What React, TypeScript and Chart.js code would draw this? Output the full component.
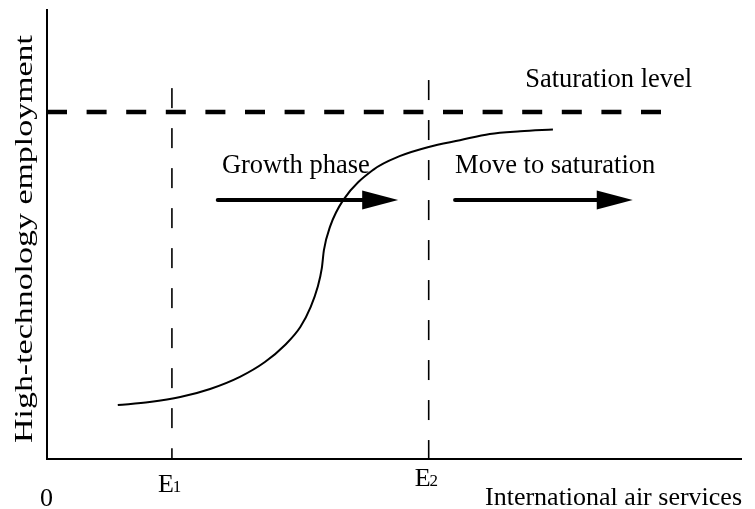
import React, { useEffect, useRef } from "react";
import { Chart, registerables } from "chart.js";

Chart.register(...registerables);

// S-curve (x: international air services, y: high-technology employment), 0..100 units
const curveX = [10.2, 14.8, 19.2, 23.5, 27.8, 31.4, 34.3, 36.5, 38.0, 39.0, 39.6, 39.9, 40.8, 42.7, 47.0, 50.9, 55.0, 59.5, 63.8, 68.2, 72.9];
const curveY = [12.0, 12.7, 13.8, 15.6, 18.3, 21.6, 25.4, 29.4, 33.9, 38.3, 42.5, 46.5, 51.8, 57.7, 64.4, 67.5, 69.5, 71.0, 72.4, 73.0, 73.4];

// Saturation level
const saturationLevel = 77.3;
const saturationEnd = 88.6;

// Thresholds E1, E2
const thresholdLabels = ["E", "E"];
const thresholdSubs = ["1", "2"];
const thresholdX = [18.0, 55.0];
const thresholdTop = [82.6, 84.4];

// Arrows
const arrowLabels = ["Growth phase", "Move to saturation"];
const arrowStart = [24.6, 58.8];
const arrowEnd = [50.6, 84.4];
const arrowY = 57.7;

const xTitle = "International air services";
const yTitle = "High-technology employment";
const originLabel = "0";
const saturationLabel = "Saturation level";

const FONT = '"Liberation Serif", "Times New Roman", serif';

const overlayPlugin = {
  id: "overlay",
  afterDatasetsDraw(chart: any) {
    const { ctx, scales } = chart;
    const xs = scales.x;
    const ys = scales.y;
    ctx.save();
    for (let i = 0; i < arrowStart.length; i++) {
      const x0 = xs.getPixelForValue(arrowStart[i]);
      const x1 = xs.getPixelForValue(arrowEnd[i]);
      const y = ys.getPixelForValue(arrowY);
      const headLen = 36;
      const headHalf = 9.5;
      ctx.strokeStyle = "#000";
      ctx.lineWidth = 4;
      ctx.lineCap = "round";
      ctx.beginPath();
      ctx.moveTo(x0, y);
      ctx.lineTo(x1 - headLen + 2, y);
      ctx.stroke();
      ctx.fillStyle = "#000";
      ctx.beginPath();
      ctx.moveTo(x1, y);
      ctx.lineTo(x1 - headLen, y - headHalf);
      ctx.lineTo(x1 - headLen, y + headHalf);
      ctx.closePath();
      ctx.fill();
    }
    ctx.restore();
  },
  afterDraw(chart: any) {
    const { ctx, scales } = chart;
    const xs = scales.x;
    const ys = scales.y;
    ctx.save();
    ctx.fillStyle = "#000";
    ctx.textBaseline = "alphabetic";
    ctx.font = `26.5px ${FONT}`;
    ctx.textAlign = "left";
    ctx.fillText(saturationLabel, xs.getPixelForValue(68.9), ys.getPixelForValue(82.9));
    ctx.fillText(arrowLabels[0], xs.getPixelForValue(25.2), ys.getPixelForValue(63.7));
    ctx.fillText(arrowLabels[1], xs.getPixelForValue(58.8), ys.getPixelForValue(63.7));
    const subBase = [ys.getPixelForValue(-7.3), ys.getPixelForValue(-6.0)];
    for (let i = 0; i < thresholdX.length; i++) {
      const left = xs.getPixelForValue(thresholdX[i]) - 14;
      ctx.font = `26px ${FONT}`;
      ctx.fillText(thresholdLabels[i], left, subBase[i]);
      const w = ctx.measureText(thresholdLabels[i]).width;
      ctx.font = `17px ${FONT}`;
      ctx.fillText(thresholdSubs[i], left + w - 1, subBase[i]);
    }
    ctx.font = `26px ${FONT}`;
    ctx.fillText(originLabel, xs.left - 7, ys.getPixelForValue(-10.5));
    ctx.textAlign = "right";
    ctx.fillText(xTitle, xs.right + 1, ys.getPixelForValue(-10.2));
    ctx.textAlign = "center";
    const w = ctx.measureText(yTitle).width;
    const targetLen = 408;
    ctx.translate(xs.left - 15, (ys.top + ys.bottom) / 2 + 4.5);
    ctx.rotate(-Math.PI / 2);
    ctx.scale(targetLen / w, 1);
    ctx.fillText(yTitle, 0, 0);
    ctx.restore();
  },
};

export default function App() {
  const ref = useRef<HTMLCanvasElement | null>(null);
  useEffect(() => {
    if (!ref.current) return;
    const curve = curveX.map((x, i) => ({ x, y: curveY[i] }));
    const datasets: any[] = [
      {
        data: curve,
        borderColor: "#000",
        borderWidth: 2,
        pointRadius: 0,
        showLine: true,
        cubicInterpolationMode: "monotone",
        fill: false,
      },
      {
        data: [
          { x: 0, y: saturationLevel },
          { x: saturationEnd, y: saturationLevel },
        ],
        borderColor: "#000",
        borderWidth: 4.5,
        borderDash: [20, 19.6],
        borderCapStyle: "butt",
        pointRadius: 0,
        showLine: true,
      },
    ];
    thresholdX.forEach((tx, i) => {
      datasets.push({
        data: [
          { x: tx, y: thresholdTop[i] },
          { x: tx, y: 0 },
        ],
        borderColor: "#000",
        borderWidth: 1.6,
        borderDash: [20, 20],
        borderCapStyle: "butt",
        pointRadius: 0,
        showLine: true,
      });
    });
    const chart = new Chart(ref.current, {
      type: "scatter",
      data: { datasets },
      options: {
        animation: false,
        responsive: false,
        events: [],
        layout: { padding: { left: 47, right: 14, top: 10, bottom: 50 } },
        plugins: { legend: { display: false }, tooltip: { enabled: false } },
        scales: {
          x: {
            type: "linear",
            min: 0,
            max: 100,
            grid: { display: false, drawTicks: false },
            ticks: { display: false },
            border: { display: true, color: "#000", width: 2 },
          },
          y: {
            type: "linear",
            min: 0,
            max: 100,
            grid: { display: false, drawTicks: false },
            ticks: { display: false },
            border: { display: true, color: "#000", width: 2 },
          },
        },
      },
      plugins: [overlayPlugin],
    });
    return () => chart.destroy();
  }, []);
  return (
    <div style={{ position: "fixed", left: 0, top: 0, width: 755, height: 509, background: "#fff" }}>
      <canvas ref={ref} width={755} height={509} style={{ width: 755, height: 509 }} />
    </div>
  );
}
